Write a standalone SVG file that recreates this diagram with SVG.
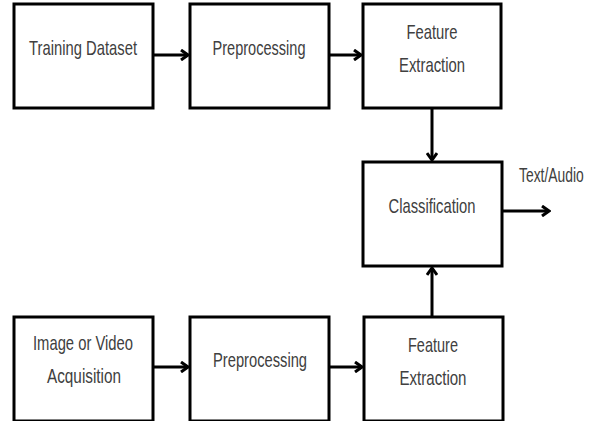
<svg xmlns="http://www.w3.org/2000/svg" width="592" height="421" viewBox="0 0 592 421">
<defs>
<marker id="ah" markerWidth="10" markerHeight="12" refX="8" refY="6" orient="auto" markerUnits="userSpaceOnUse">
<path d="M1,1 L8,6 L1,11" fill="none" stroke="#000" stroke-width="3" stroke-linejoin="miter"/>
</marker>
</defs>
<style>
.box{fill:#fff;stroke:#000;stroke-width:3}
.t{font-family:"Liberation Sans",Arial,sans-serif;font-size:21px;fill:#404040;text-anchor:middle}
.c{stroke:#000;stroke-width:3;fill:none;marker-end:url(#ah)}
</style>
<rect width="592" height="421" fill="#fff"/>
<g id="training">
<rect class="box" x="14" y="4" width="139" height="104"/>
<text class="t" x="83" y="55" textLength="108" lengthAdjust="spacingAndGlyphs">Training Dataset</text>
</g>
<g id="preprocessing-top">
<rect class="box" x="190" y="4" width="139" height="104"/>
<text class="t" x="259" y="55" textLength="93" lengthAdjust="spacingAndGlyphs">Preprocessing</text>
</g>
<g id="feature-top">
<rect class="box" x="363" y="4" width="138" height="104"/>
<text class="t" x="432" y="39" textLength="51" lengthAdjust="spacingAndGlyphs">Feature</text>
<text class="t" x="432" y="72" textLength="66" lengthAdjust="spacingAndGlyphs">Extraction</text>
</g>
<g id="classification">
<rect class="box" x="363" y="162" width="139" height="104"/>
<text class="t" x="432" y="213" textLength="87" lengthAdjust="spacingAndGlyphs">Classification</text>
</g>
<g id="acquisition">
<rect class="box" x="14" y="317" width="139" height="104"/>
<text class="t" x="83" y="350" textLength="100" lengthAdjust="spacingAndGlyphs">Image or Video</text>
<text class="t" x="84" y="383" textLength="74" lengthAdjust="spacingAndGlyphs">Acquisition</text>
</g>
<g id="preprocessing-bottom">
<rect class="box" x="190" y="317" width="139" height="104"/>
<text class="t" x="260" y="367" textLength="94" lengthAdjust="spacingAndGlyphs">Preprocessing</text>
</g>
<g id="feature-bottom">
<rect class="box" x="364" y="317" width="139" height="104"/>
<text class="t" x="433" y="352" textLength="50" lengthAdjust="spacingAndGlyphs">Feature</text>
<text class="t" x="433" y="385" textLength="67" lengthAdjust="spacingAndGlyphs">Extraction</text>
</g>
<g id="output-label">
<text class="t" transform="translate(519,182) scale(0.66,1)" x="0" y="0" style="text-anchor:start">Text/Audio</text>
</g>
<g id="connectors">
<line class="c" x1="153" y1="55" x2="188" y2="55"/>
<line class="c" x1="329" y1="55" x2="361" y2="55"/>
<line class="c" x1="432" y1="108" x2="432" y2="160"/>
<line class="c" x1="432" y1="317" x2="432" y2="268"/>
<line class="c" x1="502" y1="211" x2="549" y2="211"/>
<line class="c" x1="153" y1="367" x2="188" y2="367"/>
<line class="c" x1="329" y1="367" x2="362" y2="367"/>
</g>
</svg>
